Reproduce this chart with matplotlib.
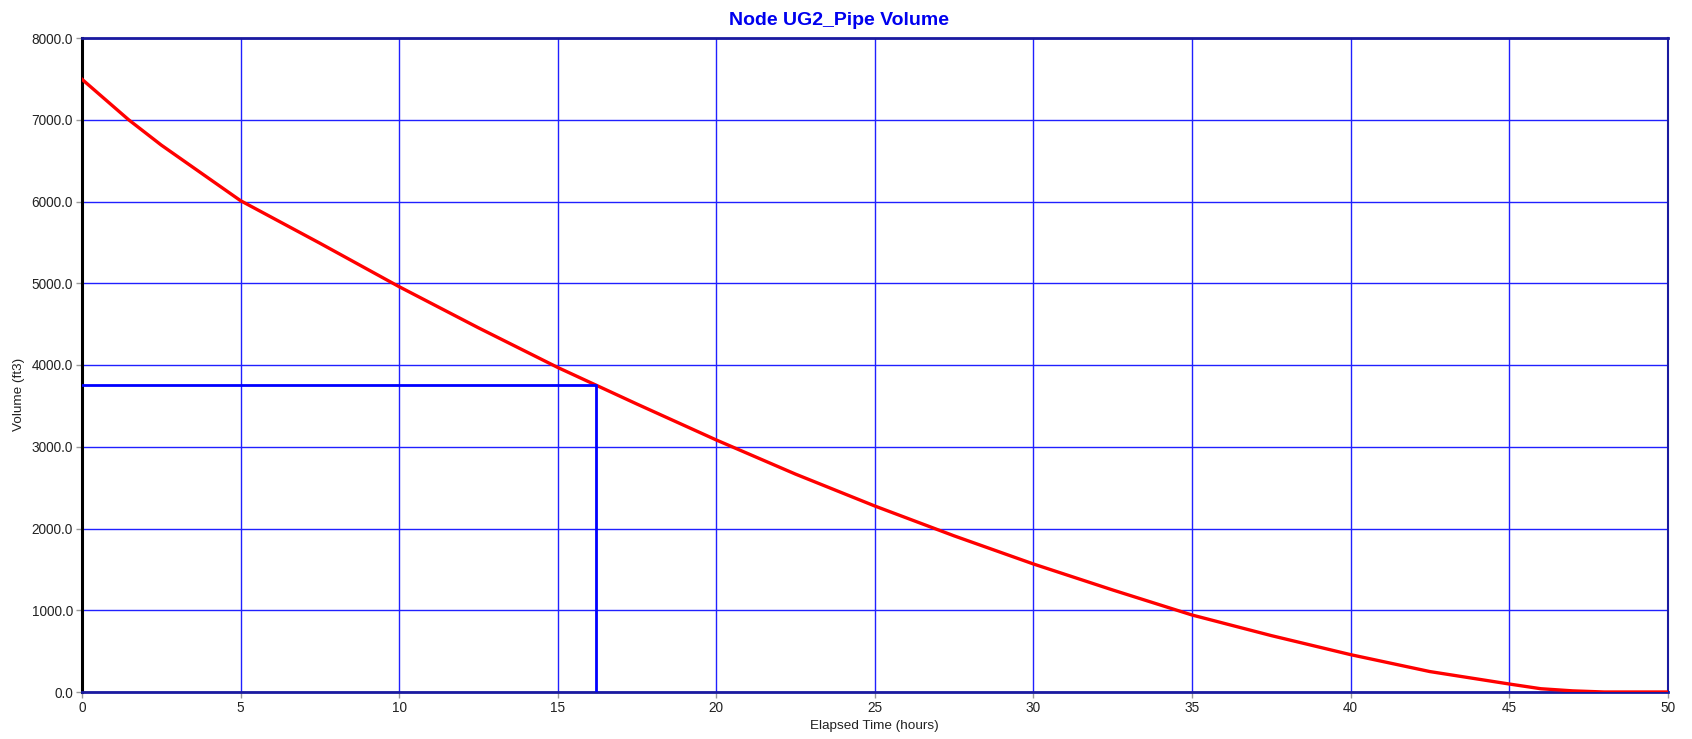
import matplotlib
matplotlib.use("Agg")
import matplotlib.pyplot as plt

plt.rcParams["font.family"] = ["Liberation Sans", "DejaVu Sans"]

# values
hours = [0, 1.47, 2.5, 5, 7.5, 10, 12.5, 15, 16.2, 17.5, 20, 22.5, 25, 27.5,
         30, 32.5, 35, 37.5, 40, 42.5, 45, 46, 47, 48, 50]
volume = [7495, 7000, 6690, 6010, 5490, 4958, 4455, 3970, 3755, 3522, 3083,
          2665, 2275, 1910, 1566, 1248, 942, 690, 457, 250, 98, 40, 14, 0, 0]

marker_time = 16.2
marker_volume = 3750

x_ticks = [0, 5, 10, 15, 20, 25, 30, 35, 40, 45, 50]
y_ticks = [0, 1000, 2000, 3000, 4000, 5000, 6000, 7000, 8000]

W, H = 1692, 739
fig = plt.figure(figsize=(W / 100, H / 100), dpi=100)
ax = fig.add_axes([82 / W, 1 - 692 / H, (1667.7 - 82) / W, (692 - 38) / H])

ax.set_xlim(0, 50)
ax.set_ylim(0, 8000)
ax.set_xticks(x_ticks)
ax.set_yticks(y_ticks)
ax.set_xticklabels([str(t) for t in x_ticks])
ax.set_yticklabels([f"{t:.1f}" for t in y_ticks])

ax.grid(True, color="#2020ff", linewidth=1.0)
ax.set_axisbelow(True)

ax.plot(hours, volume, color="#ff0000", linewidth=2.4, zorder=3)
ax.plot([0, marker_time, marker_time], [marker_volume, marker_volume, 0],
        color="#0000ff", linewidth=2.0, zorder=4)

ax.tick_params(axis="both", direction="out", length=4.3, width=1, color="#999999",
               labelsize=9.8, labelcolor="#222222", pad=2.2)
ax.tick_params(top=False, right=False)

ax.spines["left"].set_color("black")
ax.spines["left"].set_linewidth(2.2)
for side in ["bottom", "top"]:
    ax.spines[side].set_color("#1a1aa0")
    ax.spines[side].set_linewidth(2.0)
ax.spines["right"].set_color("#1a1aa0")
ax.spines["right"].set_linewidth(1.5)

fig.text(838.5 / W, 1 - 25 / H, "Node UG2_Pipe Volume", color="#0000ee",
         fontsize=14, fontweight="bold", ha="center", va="baseline")
fig.text(874 / W, 1 - 729 / H, "Elapsed Time (hours)", color="#222222",
         fontsize=9.7, ha="center", va="baseline")
fig.text(19.5 / W, 1 - 394 / H, "Volume (ft3)", color="#222222",
         fontsize=9.7, ha="center", va="center", rotation=90)

fig.savefig("out.png", dpi=100)
